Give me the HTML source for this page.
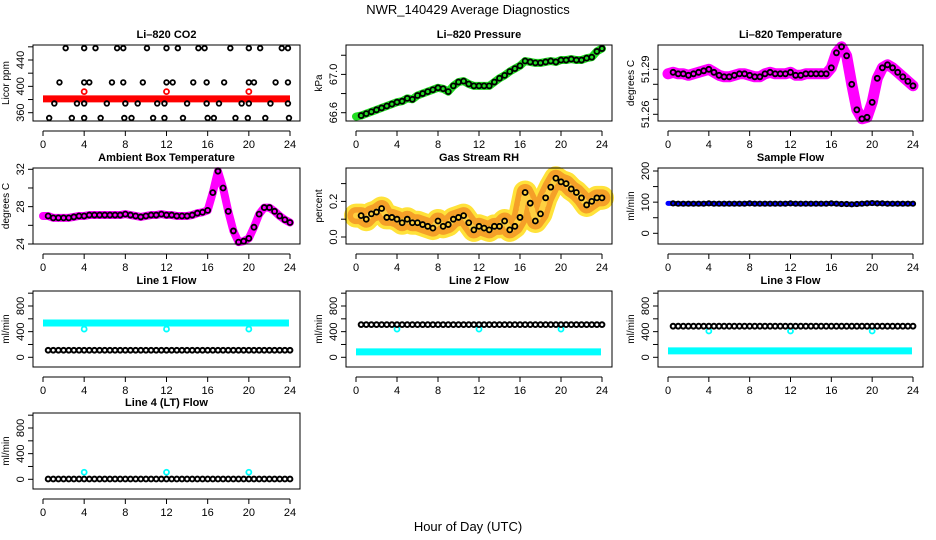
<!DOCTYPE html>
<html><head><meta charset="utf-8"><style>
body{margin:0;background:#fff}
svg{display:block;font-family:"Liberation Sans",sans-serif}
</style></head><body>
<svg id="c" width="936" height="540" viewBox="0 0 936 540"></svg>
<script>
const hours=[0,0.5,1,1.5,2,2.5,3,3.5,4,4.5,5,5.5,6,6.5,7,7.5,8,8.5,9,9.5,10,10.5,11,11.5,12,12.5,13,13.5,14,14.5,15,15.5,16,16.5,17,17.5,18,18.5,19,19.5,20,20.5,21,21.5,22,22.5,23,23.5,24];
const xTicks=[0,4,8,12,16,20,24];
const co2RedLevel=381;
const co2RedOutlierHours=[4,12,20];
const co2RedOutlierVal=392;
const co2Levels=[458,406,374,352];
const co2HoursL1=[2.2,4,5.1,7.2,7.8,10.1,12,13.1,15.1,15.7,18.2,20,21.1,23.2,23.8];
const co2HoursL2=[1.6,4,4.5,6.7,7.8,9.7,12,12.6,14.6,15.9,17.6,20,20.5,22.6,23.8];
const co2HoursL3=[1.1,3.3,4,6.2,8,9.2,11.1,11.8,14,15.9,17.1,19.3,20,22.1,23.8];
const co2HoursL4=[0.6,2.8,4,5.6,7.9,8.6,10.7,11.8,13.6,16,16.6,18.7,19.9,21.6,23.9];
const pressure=[66.56,66.57,66.59,66.61,66.63,66.65,66.67,66.69,66.71,66.72,66.75,66.74,66.78,66.80,66.82,66.84,66.86,66.85,66.82,66.88,66.92,66.93,66.90,66.88,66.88,66.88,66.88,66.92,66.96,66.99,67.03,67.06,67.09,67.14,67.13,67.12,67.12,67.13,67.14,67.13,67.15,67.15,67.16,67.15,67.15,67.17,67.18,67.24,67.27];
const licorTemp=[51.287,51.288,51.287,51.287,51.286,51.287,51.288,51.289,51.290,51.288,51.286,51.285,51.285,51.286,51.287,51.287,51.286,51.285,51.285,51.287,51.288,51.287,51.287,51.287,51.288,51.286,51.286,51.287,51.287,51.287,51.287,51.287,51.291,51.301,51.305,51.299,51.280,51.263,51.257,51.258,51.268,51.284,51.291,51.293,51.291,51.288,51.285,51.282,51.279];
const boxTemp=[27.0,27.0,26.8,26.8,26.8,26.8,26.9,27.0,27.0,27.1,27.1,27.1,27.1,27.1,27.1,27.1,27.2,27.1,27.0,26.9,27.0,27.1,27.1,27.2,27.1,27.1,27.0,27.0,27.0,27.1,27.3,27.4,27.6,29.5,31.8,30.0,27.5,25.4,24.2,24.3,24.6,25.8,27.2,27.9,27.9,27.5,27.0,26.6,26.3];
const rh=[0.12,0.12,0.10,0.13,0.14,0.16,0.11,0.11,0.10,0.08,0.10,0.08,0.08,0.07,0.06,0.05,0.09,0.06,0.07,0.10,0.11,0.12,0.08,0.04,0.06,0.05,0.04,0.06,0.06,0.09,0.04,0.06,0.11,0.25,0.19,0.09,0.13,0.22,0.28,0.33,0.31,0.30,0.27,0.25,0.22,0.18,0.20,0.22,0.22];
const sampleFlow=[96,96,95,95,95,95,95,95,96,95,95,95,95,95,95,95,96,95,95,95,95,95,95,95,96,95,95,95,95,95,95,95,96,95,94,94,93,94,95,96,97,96,96,95,95,95,95,95,95];
const flowOutlierHours=[4,12,20];
const line1Cyan=535, line1Black=110, line1Outlier=440;
const line2Black=510, line2Cyan=85, line2Outlier=440;
const line3Black=485, line3Cyan=100, line3Outlier=410;
const line4Black=5, line4Outlier=110;

const svg=document.getElementById('c');
const NS='http://www.w3.org/2000/svg';
function el(tag,attrs,parent){const e=document.createElementNS(NS,tag);for(const k in attrs)e.setAttribute(k,attrs[k]);(parent||svg).appendChild(e);return e;}
function txt(s,attrs,parent){const e=el('text',attrs,parent);e.textContent=s;return e;}

const colL=[33,346,658], colR=[300,612,923];
const rowT=[45,168,291,413], rowB=[121,244,367,489];

function makePanel(col,row,name,title,ylab,v1,y1,v2,y2,yticks,ylabels){
  const g=el('g',{});
  
  
  const L=colL[col],R=colR[col],T=rowT[row],B=rowB[row];
  const xs=h=>L+10+(R-L-20)*h/24;
  const ys=v=>y1+(v-v1)*(y2-y1)/(v2-v1);
  const t=txt(title,{x:(L+R)/2,y:T-7,'text-anchor':'middle','font-size':11,'font-weight':'bold'},g);
  
  const yl=txt(ylab,{transform:`translate(${L-24},${(T+B)/2}) rotate(-90)`,'text-anchor':'middle','font-size':10},g);
  
  const plot=el('g',{},g);
  
  const xa=el('g',{},g);
  
  el('line',{x1:xs(0),x2:xs(24),y1:B+10,y2:B+10,stroke:'#000'},xa);
  xTicks.forEach(h=>{el('line',{x1:xs(h),x2:xs(h),y1:B+10,y2:B+15,stroke:'#000'},xa);
    txt(String(h),{x:xs(h),y:B+27,'text-anchor':'middle','font-size':11},xa);});
  const ya=el('g',{},g);
  
  el('line',{x1:L,x2:L,y1:ys(yticks[0]),y2:ys(yticks[yticks.length-1]),stroke:'#000'},ya);
  yticks.forEach(v=>el('line',{x1:L-5,x2:L,y1:ys(v),y2:ys(v),stroke:'#000'},ya));
  ylabels.forEach(v=>txt(String(v),{transform:`translate(${L-9},${ys(v)}) rotate(-90)`,'text-anchor':'middle','font-size':11},ya));
  return {g,plot,xs,ys,L,R,T,B};
}
function finish(p){el('rect',{x:p.L,y:p.T,width:p.R-p.L,height:p.B-p.T,fill:'none',stroke:'#000'},p.g);}
function band(p,vals,color,w,dash){
  const pts=hours.map((h,i)=>p.xs(h)+','+p.ys(vals[i])).join(' ');
  const a={points:pts,fill:'none',stroke:color,'stroke-width':w,'stroke-linejoin':'round','stroke-linecap':'round'};
  if(dash)a['stroke-dasharray']=dash;
  const pl=el('polyline',a,p.plot);
  
}
function pts(p,hs,vals,color,r,sw){
  hs.forEach((h,i)=>{const c=el('circle',{cx:p.xs(h),cy:p.ys(Array.isArray(vals)?vals[i]:vals),r:r||2.5,fill:'none',stroke:color,'stroke-width':sw||1.8},p.plot);
    });
}
function hline(p,v,color,w,h0,h1){
  const l=el('line',{x1:p.xs(h0),x2:p.xs(h1),y1:p.ys(v),y2:p.ys(v),stroke:color,'stroke-width':w},p.plot);
  
}
const blackHours=hours.slice(1);
const flowTicks=[0,200,400,600,800,1000],flowLabels=[0,400,800];

const mt=txt('NWR_140429  Average Diagnostics',{x:468,y:14,'text-anchor':'middle','font-size':13});

const xt=txt('Hour of Day (UTC)',{x:468,y:531,'text-anchor':'middle','font-size':13});


let p=makePanel(0,0,'co2-panel','Li\u2013820 CO2','Licor ppm',360,112.7,440,60,[360,380,400,420,440,460],[360,400,440]);
hline(p,co2RedLevel,'#f00',7,0,24);
pts(p,co2RedOutlierHours,co2RedOutlierVal,'#f00');
pts(p,co2HoursL1,co2Levels[0],'#000',2.3);
pts(p,co2HoursL2,co2Levels[1],'#000',2.3);
pts(p,co2HoursL3,co2Levels[2],'#000',2.3);
pts(p,co2HoursL4,co2Levels[3],'#000',2.3);
finish(p);
p=makePanel(1,0,'pressure-panel','Li\u2013820 Pressure','kPa',66.6,112.7,67.0,74.4,[66.6,66.8,67.0,67.2],['66.6','67.0']);
band(p,pressure,'#22dd22',8);
pts(p,blackHours,pressure.slice(1),'#000');
finish(p);
p=makePanel(2,0,'licor-temp-panel','Li\u2013820 Temperature','degrees C',51.26,114.3,51.29,69.3,[51.26,51.27,51.28,51.29],['51.26','51.29']);
band(p,licorTemp,'#ff00ff',11);
pts(p,blackHours,licorTemp.slice(1),'#000');
finish(p);
p=makePanel(0,1,'box-temp-panel','Ambient Box Temperature','degrees C',24,244,32,169.3,[24,26,28,30,32],[24,28,32]);
band(p,boxTemp,'#ff00ff',8);
pts(p,blackHours,boxTemp.slice(1),'#000');
finish(p);
p=makePanel(1,1,'rh-panel','Gas Stream RH','percent',0,237,0.2,201.4,[0,0.1,0.2,0.3],['0.0','0.2']);
band(p,rh,'#ffe23a',24);
band(p,rh,'#f5a028',17);
band(p,rh,'#ffd040',6,'2 3');
pts(p,blackHours,rh.slice(1),'#000');
finish(p);
p=makePanel(2,1,'sample-flow-panel','Sample Flow','ml/min',0,233.3,200,171,[0,50,100,150,200],[0,100,200]);
band(p,sampleFlow,'#0000ff',5);
pts(p,blackHours,sampleFlow.slice(1),'#000',2.2);
finish(p);
function flowPanel(col,row,name,title,cyanVal,blackVal,outlier,outColor){
  const T=rowT[row];
  const q=makePanel(col,row,name,title,'ml/min',0,T+66.3,800,T+15,flowTicks,flowLabels);
  if(cyanVal!==null)hline(q,cyanVal,'#00ffff',7,0,23.9);
  pts(q,flowOutlierHours,outlier,outColor);
  pts(q,blackHours,blackVal,'#000',2.4,2);
  finish(q);return q;
}
flowPanel(0,2,'line1-flow-panel','Line 1 Flow',line1Cyan,line1Black,line1Outlier,'#00ffff');
flowPanel(1,2,'line2-flow-panel','Line 2 Flow',line2Cyan,line2Black,line2Outlier,'#00ffff');
flowPanel(2,2,'line3-flow-panel','Line 3 Flow',line3Cyan,line3Black,line3Outlier,'#00ffff');
flowPanel(0,3,'line4-flow-panel','Line 4 (LT) Flow',null,line4Black,line4Outlier,'#00ffff');
</script>
</body></html>
